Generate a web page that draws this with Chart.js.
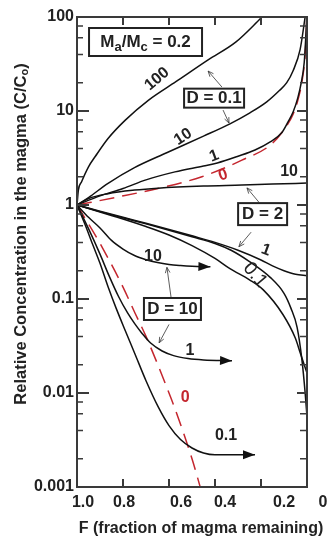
<!DOCTYPE html>
<html>
<head>
<meta charset="utf-8">
<script src="https://cdn.jsdelivr.net/npm/chart.js@4/dist/chart.umd.min.js"></script>
<style>
  html, body { margin: 0; padding: 0; background: #fff; }
  canvas { display: block; }
</style>
</head>
<body>
<canvas id="chart" width="329" height="539"></canvas>
<script>
// axis ticks
const yTickVals = [100, 10, 1, 0.1, 0.01, 0.001];
const yTickLabels = ['100', '10', '1', '0.1', '0.01', '0.001'];
const xTickVals = [1, 0.8, 0.6, 0.4, 0.2, 0];
const xTickLabels = ['1.0', '0.8', '0.6', '0.4', '0.2', '0'];

// D = 0.1 group (Ca/Co = 100, 10, 1, and 0 = red dashed)
const F_d01_100 = [1, 0.994, 0.98, 0.95, 0.92, 0.865, 0.79, 0.69, 0.57, 0.43, 0.31, 0.195];
const C_d01_100 = [1, 1.44, 1.77, 2.55, 3.3, 5.1, 8.0, 13, 20.5, 35, 54, 100];
const F_d01_10 = [1, 0.95, 0.865, 0.75, 0.61, 0.45, 0.335, 0.25, 0.175, 0.12, 0.088, 0.06, 0.03, 0.008];
const C_d01_10 = [1, 1.2, 1.7, 2.5, 3.6, 5.4, 7.3, 9.5, 12.5, 16.5, 20, 27, 45, 100];
const F_d01_1 = [1, 0.9, 0.8, 0.7, 0.574, 0.45, 0.39, 0.3, 0.226, 0.16, 0.109, 0.083, 0.06, 0.04, 0.025, 0.012, 0.004, 0.001];
const C_d01_1 = [1, 1.25, 1.5, 1.85, 2.25, 2.6, 2.8, 3.3, 3.85, 4.7, 5.9, 7.6, 9.8, 13.8, 20, 33, 70, 100];
const F_d01_0 = [1, 0.835, 0.648, 0.457, 0.283, 0.152, 0.083, 0.06, 0.039, 0.02, 0.009, 0.004, 0.0008];
const C_d01_0 = [1, 1.2, 1.5, 2.0, 3.0, 4.5, 7.3, 9.3, 13.2, 22, 37, 60, 100];

// D = 2 group
const F_d2_10 = [1, 0.95, 0.865, 0.75, 0.648, 0.45, 0.283, 0.15, 0];
const C_d2_10 = [1, 1.17, 1.32, 1.44, 1.51, 1.59, 1.63, 1.67, 1.71];
const F_d2_1 = [1, 0.9, 0.8, 0.7, 0.6, 0.5, 0.4, 0.3, 0.2, 0.15, 0.1, 0.05, 0];
const C_d2_1 = [1, 0.86, 0.74, 0.64, 0.55, 0.47, 0.4, 0.33, 0.26, 0.225, 0.2, 0.183, 0.177];
const F_d2_a = [1, 0.9, 0.8, 0.7, 0.6, 0.5, 0.4, 0.33, 0.25, 0.16, 0.1, 0.07, 0.043, 0.022, 0.008, 0];
const C_d2_a = [1, 0.85, 0.73, 0.63, 0.54, 0.46, 0.39, 0.33, 0.25, 0.17, 0.115, 0.08, 0.05, 0.0225, 0.01, 0.0056];
const F_d2_b = [1, 0.9, 0.8, 0.7, 0.6, 0.5, 0.4, 0.335, 0.25, 0.19, 0.104, 0.05, 0.03, 0];
const C_d2_b = [1, 0.84, 0.71, 0.59, 0.48, 0.37, 0.27, 0.21, 0.16, 0.125, 0.068, 0.038, 0.027, 0.0163];

// D = 10 group
const F_d10_10 = [1, 0.95, 0.9, 0.85, 0.8, 0.75, 0.7, 0.65, 0.6, 0.55, 0.5, 0.42];
const C_d10_10 = [1, 0.74, 0.57, 0.42, 0.34, 0.29, 0.262, 0.244, 0.233, 0.227, 0.223, 0.22];
const F_d10_1 = [1, 0.95, 0.9, 0.86, 0.82, 0.78, 0.75, 0.717, 0.68, 0.63, 0.58, 0.517, 0.45, 0.326];
const C_d10_1 = [1, 0.56, 0.3, 0.175, 0.107, 0.071, 0.055, 0.043, 0.034, 0.028, 0.025, 0.0233, 0.0225, 0.022];
const F_d10_01 = [1, 0.965, 0.93, 0.9, 0.865, 0.83, 0.79, 0.748, 0.7, 0.648, 0.6, 0.55, 0.5, 0.45, 0.4, 0.226];
const C_d10_01 = [1, 0.62, 0.37, 0.24, 0.135, 0.08, 0.046, 0.026, 0.0135, 0.0072, 0.0045, 0.0032, 0.0026, 0.0023, 0.0022, 0.0022];
const F_d10_0 = [1, 0.9, 0.8, 0.748, 0.7, 0.6, 0.574, 0.5, 0.45];
const C_d10_0 = [1, 0.39, 0.134, 0.071, 0.040, 0.010, 0.0068, 0.002, 0.00075];

const FONT = '"Liberation Sans", Arial, sans-serif';
const INK = '#222';
const RED = '#c4262e';

function pts(F, C) {
    let out = [];
    for (let i = 0; i < F.length; i++) out.push({ x: F[i], y: C[i] });
    return out;
}

function curve(F, C, red, arrow) {
    return {
        data: pts(F, C),
        borderColor: red ? RED : '#111',
        borderWidth: 1.5,
        borderDash: red ? [15, 8] : [],
        pointRadius: 0,
        cubicInterpolationMode: 'monotone',
        endArrow: !!arrow
    };
}

const datasets = [
    curve(F_d01_100, C_d01_100),
    curve(F_d01_10, C_d01_10),
    curve(F_d01_1, C_d01_1),
    curve(F_d2_10, C_d2_10),
    curve(F_d2_1, C_d2_1),
    curve(F_d2_a, C_d2_a),
    curve(F_d2_b, C_d2_b),
    curve(F_d10_10, C_d10_10, false, true),
    curve(F_d10_1, C_d10_1, false, true),
    curve(F_d10_01, C_d10_01, false, true),
    curve(F_d01_0, C_d01_0, true),
    curve(F_d10_0, C_d10_0, true)
];

// curve labels, placed in data coordinates
const curveLabels = [
    { t: '100', F: 0.652, v: 21.9, rot: -40 },
    { t: '10', F: 0.539, v: 5.3, rot: -33 },
    { t: '1', F: 0.404, v: 3.32, rot: -20 },
    { t: '0', F: 0.365, v: 2.08, rot: -18, red: true },
    { t: '10', F: 0.078, v: 2.24, rot: 0 },
    { t: '1', F: 0.178, v: 0.332, rot: 20 },
    { t: '0.1', F: 0.226, v: 0.18, rot: 50, light: true, size: 19 },
    { t: '10', F: 0.67, v: 0.286, rot: 0 },
    { t: '1', F: 0.509, v: 0.0286, rot: 0 },
    { t: '0', F: 0.53, v: 0.00886, rot: 0, red: true },
    { t: '0.1', F: 0.352, v: 0.00349, rot: 0 }
];

// boxed notes: centre in data coords, size in px
const boxes = [
    { parts: [['M', 17, 0], ['a', 13, 5], ['/M', 17, 0], ['c', 13, 5], [' = 0.2', 17, 0]], F: 0.702, v: 54.2, w: 113, h: 28 },
    { parts: [['D = 0.1', 17, 0]], F: 0.404, v: 13.7, w: 60, h: 19 },
    { parts: [['D = 2', 17, 0]], F: 0.193, v: 0.80, w: 49, h: 22 },
    { parts: [['D = 10', 17, 0]], F: 0.585, v: 0.0783, w: 57, h: 22 }
];

// pointer arrows from boxes to curves
const pointers = [
    { from: [0.37, 18.0], to: [0.43, 26.6] },
    { from: [0.365, 10.23], to: [0.339, 7.44] },
    { from: [0.209, 1.07], to: [0.261, 1.52] },
    { from: [0.243, 0.514], to: [0.296, 0.36] },
    { from: [0.591, 0.104], to: [0.609, 0.217] },
    { from: [0.6, 0.0536], to: [0.643, 0.0342] }
];

const xLabelShift = [6, 1, 12, 10, 23, 16];

const decor = {
    id: 'decor',
    afterDatasetsDraw(chart) {
        const ctx = chart.ctx;
        const xs = chart.scales.x, ys = chart.scales.y;
        const a = chart.chartArea;
        ctx.save();

        // arrow heads at the ends of the D = 10 curves
        chart.data.datasets.forEach(function(ds, i) {
            if (!ds.endArrow) return;
            const p = chart.getDatasetMeta(i).data;
            const tip = p[p.length - 1], prev = p[p.length - 2];
            const ang = Math.atan2(tip.y - prev.y, tip.x - prev.x);
            ctx.save();
            ctx.translate(tip.x, tip.y);
            ctx.rotate(ang);
            ctx.fillStyle = '#111';
            ctx.beginPath();
            ctx.moveTo(0, 0);
            ctx.lineTo(-12, -4.5);
            ctx.lineTo(-12, 4.5);
            ctx.closePath();
            ctx.fill();
            ctx.restore();
        });

        // frame
        ctx.strokeStyle = '#3a3a3a';
        ctx.lineWidth = 2;
        ctx.strokeRect(a.left, a.top, a.right - a.left, a.bottom - a.top);

        // inward ticks
        ctx.beginPath();
        yTickVals.forEach(function(v) {
            const y = ys.getPixelForValue(v);
            ctx.moveTo(a.left, y); ctx.lineTo(a.left + 12, y);
            ctx.moveTo(a.right - 10, y); ctx.lineTo(a.right, y);
        });
        xTickVals.forEach(function(v) {
            const x = xs.getPixelForValue(v);
            ctx.moveTo(x, a.bottom); ctx.lineTo(x, a.bottom - 8);
            ctx.moveTo(x, a.top); ctx.lineTo(x, a.top + 8);
        });
        ctx.stroke();
        ctx.lineWidth = 1.5;
        ctx.beginPath();
        for (let k = -3; k < 2; k++) {
            [2, 4, 6, 8].forEach(function(m) {
                const y = ys.getPixelForValue(m * Math.pow(10, k));
                ctx.moveTo(a.left, y); ctx.lineTo(a.left + 6, y);
                ctx.moveTo(a.right - 7, y); ctx.lineTo(a.right, y);
            });
        }
        ctx.stroke();

        // x tick labels
        ctx.fillStyle = INK;
        ctx.font = 'bold 16px ' + FONT;
        ctx.textAlign = 'center';
        ctx.textBaseline = 'middle';
        xTickVals.forEach(function(v, i) {
            ctx.fillText(xTickLabels[i], xs.getPixelForValue(v) + xLabelShift[i], a.bottom + 16);
        });

        // x title
        ctx.font = 'bold 16px ' + FONT;
        ctx.fillText('F (fraction of magma remaining)', 201, a.bottom + 42);

        // y title with subscript
        ctx.save();
        ctx.translate(21, 234);
        ctx.rotate(-Math.PI / 2);
        const main = 'Relative Concentration in the magma (C/C';
        ctx.font = 'bold 16.5px ' + FONT;
        const w1 = ctx.measureText(main).width;
        ctx.font = 'bold 11px ' + FONT;
        const w2 = ctx.measureText('o').width;
        ctx.font = 'bold 16.5px ' + FONT;
        const w3 = ctx.measureText(')').width;
        let x0 = -(w1 + w2 + w3) / 2;
        ctx.textAlign = 'left';
        ctx.fillText(main, x0, 0);
        ctx.font = 'bold 11px ' + FONT;
        ctx.fillText('o', x0 + w1, 4);
        ctx.font = 'bold 16.5px ' + FONT;
        ctx.fillText(')', x0 + w1 + w2, 0);
        ctx.restore();

        // curve labels
        curveLabels.forEach(function(l) {
            const x = xs.getPixelForValue(l.F), y = ys.getPixelForValue(l.v);
            ctx.save();
            ctx.translate(x, y);
            ctx.rotate(l.rot * Math.PI / 180);
            ctx.fillStyle = l.red ? RED : INK;
            ctx.font = (l.light ? '' : 'bold ') + (l.size || 16) + 'px ' + FONT;
            ctx.textAlign = 'center';
            ctx.fillText(l.t, 0, 0);
            ctx.restore();
        });

        // pointer arrows
        ctx.strokeStyle = '#333';
        ctx.lineWidth = 0.8;
        pointers.forEach(function(p) {
            const x1 = xs.getPixelForValue(p.from[0]), y1 = ys.getPixelForValue(p.from[1]);
            const x2 = xs.getPixelForValue(p.to[0]), y2 = ys.getPixelForValue(p.to[1]);
            const ang = Math.atan2(y2 - y1, x2 - x1);
            ctx.beginPath();
            ctx.moveTo(x1, y1); ctx.lineTo(x2, y2);
            ctx.moveTo(x2 - 6 * Math.cos(ang - 0.4), y2 - 6 * Math.sin(ang - 0.4));
            ctx.lineTo(x2, y2);
            ctx.lineTo(x2 - 6 * Math.cos(ang + 0.4), y2 - 6 * Math.sin(ang + 0.4));
            ctx.stroke();
        });

        // boxes
        boxes.forEach(function(b) {
            const cx = xs.getPixelForValue(b.F), cy = ys.getPixelForValue(b.v);
            ctx.fillStyle = '#fff';
            ctx.fillRect(cx - b.w / 2, cy - b.h / 2, b.w, b.h);
            ctx.strokeStyle = '#222';
            ctx.lineWidth = 2;
            ctx.strokeRect(cx - b.w / 2, cy - b.h / 2, b.w, b.h);
            let total = 0;
            b.parts.forEach(function(p) {
                ctx.font = 'bold ' + p[1] + 'px ' + FONT;
                total += ctx.measureText(p[0]).width;
            });
            let x = cx - total / 2;
            ctx.fillStyle = INK;
            ctx.textAlign = 'left';
            ctx.textBaseline = 'middle';
            b.parts.forEach(function(p) {
                ctx.font = 'bold ' + p[1] + 'px ' + FONT;
                ctx.fillText(p[0], x, cy + p[2]);
                x += ctx.measureText(p[0]).width;
            });
        });

        ctx.restore();
    }
};

const chart = new Chart(document.getElementById('chart'), {
    type: 'line',
    data: { datasets: datasets },
    options: {
        responsive: false,
        animation: false,
        layout: { padding: { top: 17, right: 22, left: 0, bottom: 0 } },
        plugins: { legend: { display: false }, tooltip: { enabled: false } },
        scales: {
            x: {
                type: 'linear', min: 0, max: 1, reverse: true,
                afterFit: function(s) { s.height = 52; },
                ticks: { display: false },
                grid: { display: false, drawTicks: false },
                border: { display: false }
            },
            y: {
                type: 'logarithmic', min: 0.001, max: 100,
                afterFit: function(s) { s.width = 77; },
                afterBuildTicks: function(s) {
                    s.ticks = yTickVals.map(function(v) { return { value: v }; });
                },
                ticks: {
                    padding: 3,
                    color: INK,
                    font: { family: FONT, size: 16, weight: 'bold' },
                    callback: function(val) { return yTickLabels[yTickVals.indexOf(val)]; }
                },
                grid: { display: false, drawTicks: false },
                border: { display: false }
            }
        }
    },
    plugins: [decor]
});
</script>
</body>
</html>
